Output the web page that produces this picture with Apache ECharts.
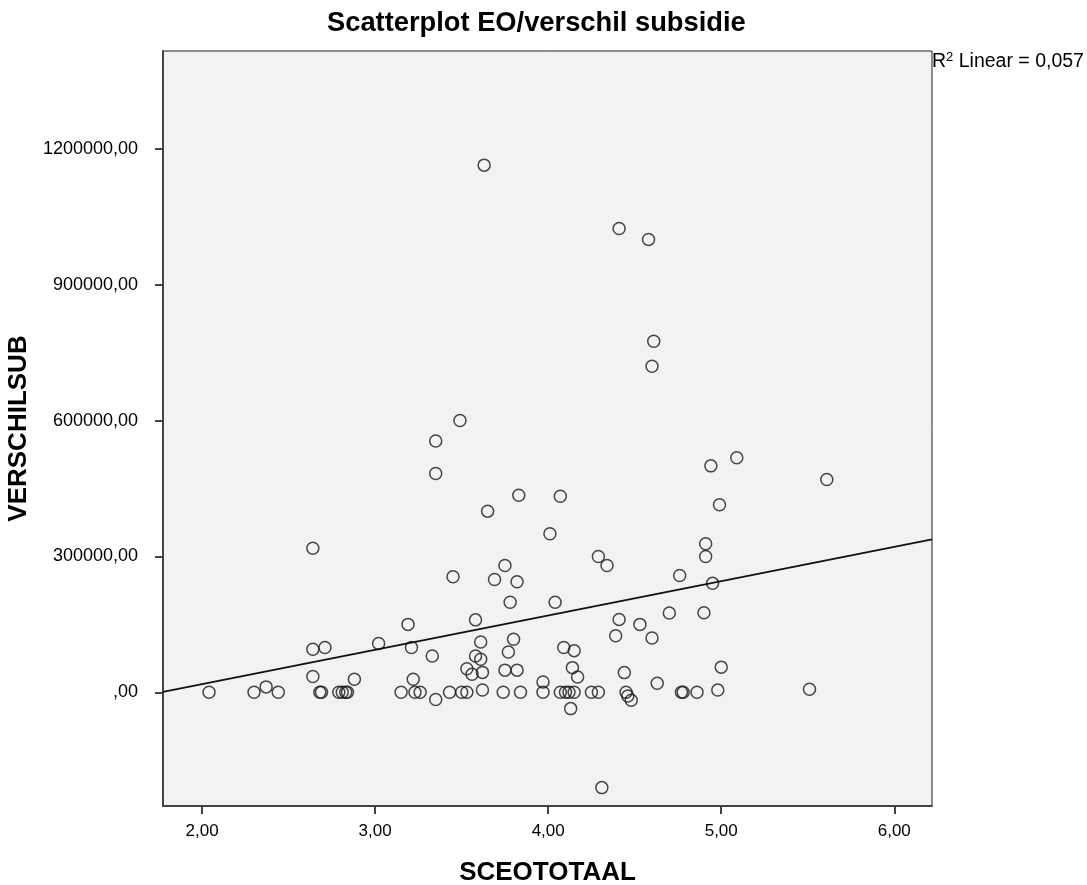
<!DOCTYPE html>
<html>
<head>
<meta charset="utf-8">
<script src="https://cdn.jsdelivr.net/npm/echarts@6/dist/echarts.min.js"></script>
<style>
html,body{margin:0;padding:0;background:#fff;}
#chart{width:1087px;height:885px;}
</style>
</head>
<body>
<div id="chart"></div>
<script>
// SCEOTOTAAL (x) values
const sceoTotaal = [
  2.04, 2.30, 2.37, 2.44, 2.64, 2.64, 2.71, 2.64, 2.68, 2.69,
  2.79, 2.81, 2.83, 2.84, 2.88, 3.02, 3.19, 3.21, 3.22, 3.15,
  3.23, 3.26, 3.33, 3.35, 3.35, 3.35, 3.43, 3.45, 3.49, 3.50,
  3.53, 3.53, 3.56, 3.58, 3.58, 3.61, 3.61, 3.62, 3.62, 3.63,
  3.65, 3.69, 3.74, 3.75, 3.75, 3.77, 3.78, 3.80, 3.82, 3.82,
  3.83, 3.84, 3.97, 3.97, 4.01, 4.04, 4.07, 4.07, 4.09, 4.10,
  4.12, 4.15, 4.15, 4.14, 4.17, 4.13, 4.25, 4.29, 4.29, 4.31,
  4.34, 4.39, 4.41, 4.41, 4.44, 4.45, 4.46, 4.48, 4.53, 4.58,
  4.60, 4.60, 4.61, 4.63, 4.70, 4.76, 4.77, 4.78, 4.86, 4.90,
  4.91, 4.91, 4.94, 4.95, 4.98, 4.99, 5.00, 5.09, 5.51, 5.61
];
// VERSCHILSUB (y) values
const verschilSub = [
  0, 0, 12000, 0, 318000, 95000, 99000, 35000, 0, 0,
  0, 0, 0, 0, 29000, 108000, 150000, 99000, 29000, 0,
  0, 0, 80000, -16000, 555000, 483000, 0, 255000, 600000, 0,
  0, 52000, 40000, 160000, 80000, 111000, 73000, 44000, 5000, 1164000,
  400000, 249000, 0, 49000, 280000, 89000, 199000, 117000, 244000, 49000,
  435000, 0, 0, 23000, 350000, 199000, 433000, 0, 99000, 0,
  0, 0, 92000, 54500, 33800, -36000, 0, 0, 300000, -210400,
  280000, 125000, 1024000, 161000, 43500, 0, -8200, -17700, 150000, 1000000,
  120000, 720000, 775000, 20000, 175000, 258000, 0, 0, 0, 175500,
  328000, 300000, 500000, 240600, 4900, 414000, 55600, 518000, 6600, 470000
];
// Fit line (linear)
const fitIntercept = -133600;
const fitSlope = 75800;
const rSquared = '0,057';
// Tick values
const xTicks = [2, 3, 4, 5, 6];
const yTicks = [0, 300000, 600000, 900000, 1200000];

const xMin = 1.774, xMax = 6.218;
const yMin = -251000, yMax = 1416000;

const points = sceoTotaal.map((x, i) => [x, verschilSub[i]]);
const fitLine = [[xMin, fitIntercept + fitSlope * xMin], [xMax, fitIntercept + fitSlope * xMax]];

const fmt = v => (Math.abs(v) < 1e-9 ? ',00' : v.toFixed(2).replace('.', ','));
const FONT = '"Liberation Sans", Arial, sans-serif';

const chart = echarts.init(document.getElementById('chart'), null, {renderer: 'canvas'});
chart.setOption({
  animation: false,
  backgroundColor: '#ffffff',
  title: {
    text: 'Scatterplot EO/verschil subsidie',
    left: 322,
    top: 5,
    textStyle: {fontFamily: FONT, fontSize: 27.3, fontWeight: 'bold', color: '#000'}
  },
  grid: {
    left: 163, top: 51, right: 155, bottom: 79,
    outerBoundsMode: 'none', containLabel: false,
    show: true, backgroundColor: '#f2f2f2', borderColor: '#222', borderWidth: 1
  },
  xAxis: {
    type: 'value', min: xMin, max: xMax,
    name: 'SCEOTOTAAL', nameLocation: 'middle', nameGap: 54,
    nameTextStyle: {fontFamily: FONT, fontSize: 26, fontWeight: 'bold', color: '#000'},
    axisLine: {show: true, onZero: false, lineStyle: {color: '#444', width: 2}},
    axisTick: {show: true, customValues: xTicks, length: 8, lineStyle: {color: '#444', width: 2}},
    axisLabel: {customValues: xTicks, formatter: fmt, fontFamily: FONT, fontSize: 17, color: '#000', margin: 17},
    splitLine: {show: false}
  },
  yAxis: {
    type: 'value', min: yMin, max: yMax,
    name: 'VERSCHILSUB', nameLocation: 'middle', nameGap: 128,
    nameTextStyle: {fontFamily: FONT, fontSize: 26, fontWeight: 'bold', color: '#000'},
    axisLine: {show: true, onZero: false, lineStyle: {color: '#444', width: 2}},
    axisTick: {show: true, customValues: yTicks, length: 8, lineStyle: {color: '#444', width: 2}},
    axisLabel: {customValues: yTicks, formatter: fmt, fontFamily: FONT, fontSize: 18, color: '#000', margin: 25},
    splitLine: {show: false}
  },
  graphic: [{
    type: 'text', left: 932, top: 51,
    style: {
      text: '{n|R}{s|2}{n| Linear = ' + rSquared + '}',
      rich: {
        n: {fontFamily: FONT, fontSize: 19.5, fill: '#000', verticalAlign: 'bottom'},
        s: {fontFamily: FONT, fontSize: 13, fill: '#000', verticalAlign: 'top', padding: [0, 0, 8, 0]}
      },
      fill: '#000'
    }
  }],
  series: [
    {
      type: 'scatter', data: points, symbol: 'circle', symbolSize: 12,
      itemStyle: {color: 'rgba(0,0,0,0)', borderColor: '#1a1a1a', borderWidth: 1.5},
      z: 3
    },
    {
      type: 'line', data: fitLine, symbol: 'none',
      lineStyle: {color: '#111', width: 1.8}, z: 4
    }
  ]
});
</script>
</body>
</html>
